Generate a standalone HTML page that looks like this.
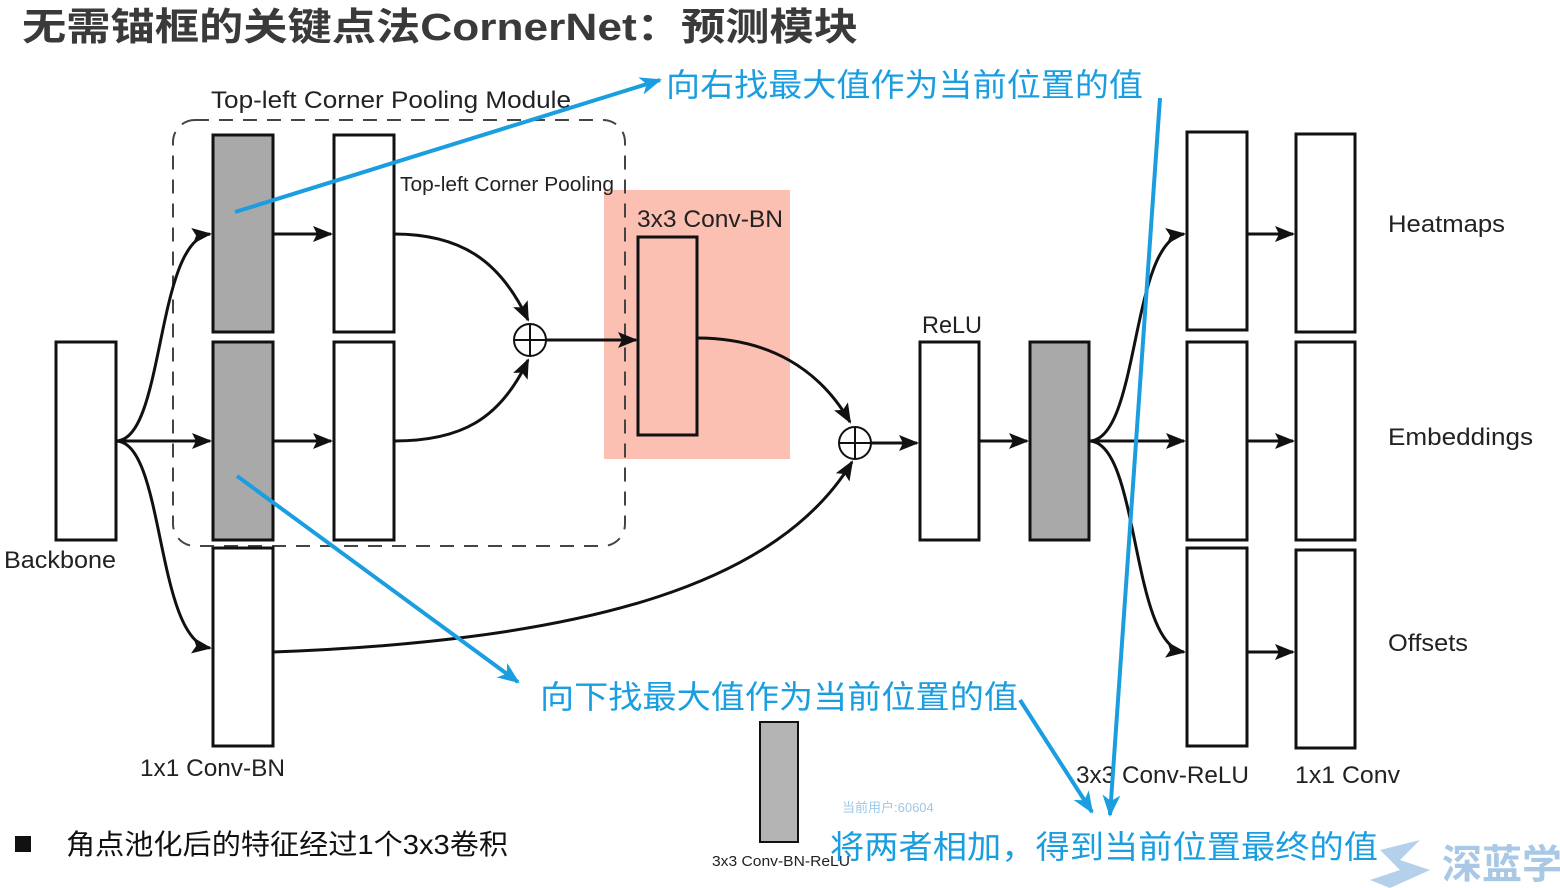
<!DOCTYPE html>
<html><head><meta charset="utf-8"><style>
body{margin:0;background:#fff;width:1560px;height:888px;overflow:hidden}
svg{display:block}
text{font-family:"Liberation Sans","Noto Sans CJK SC",sans-serif}
</style></head><body>
<svg width="1560" height="888" viewBox="0 0 1560 888">
<defs>
<marker id="ak" markerWidth="20" markerHeight="20" refX="18" refY="10" orient="auto" markerUnits="userSpaceOnUse" viewBox="0 0 20 20"><path d="M0,2 L20,10 L0,18 L4,10 z" fill="#111"/></marker>
<marker id="ab" markerWidth="22" markerHeight="18" refX="20" refY="9" orient="auto" markerUnits="userSpaceOnUse"><path d="M0,0 L22,9 L0,18 L6,9 z" fill="#1a9ee0"/></marker>
</defs>
<text x="22" y="40" font-size="38" font-weight="bold" fill="#3a3a3a" textLength="836" lengthAdjust="spacingAndGlyphs">无需锚框的关键点法CornerNet：预测模块</text>
<rect x="604" y="190" width="186" height="269" fill="#fbc0b2"/>
<rect x="173" y="120" width="452" height="426" rx="22" fill="none" stroke="#444" stroke-width="2" stroke-dasharray="14,10"/>
<text x="211" y="108" font-size="24" fill="#222" textLength="360" lengthAdjust="spacingAndGlyphs">Top-left Corner Pooling Module</text>
<text x="400" y="191" font-size="20" fill="#222" textLength="214" lengthAdjust="spacingAndGlyphs">Top-left Corner Pooling</text>
<text x="637" y="227" font-size="24" fill="#222" textLength="146" lengthAdjust="spacingAndGlyphs">3x3 Conv-BN</text>
<text x="4" y="568" font-size="24" fill="#222" textLength="112" lengthAdjust="spacingAndGlyphs">Backbone</text>
<text x="140" y="776" font-size="24" fill="#222" textLength="145" lengthAdjust="spacingAndGlyphs">1x1 Conv-BN</text>
<text x="922" y="333" font-size="24" fill="#222" textLength="60" lengthAdjust="spacingAndGlyphs">ReLU</text>
<text x="1388" y="232" font-size="24" fill="#222" textLength="117" lengthAdjust="spacingAndGlyphs">Heatmaps</text>
<text x="1388" y="445" font-size="24" fill="#222" textLength="145" lengthAdjust="spacingAndGlyphs">Embeddings</text>
<text x="1388" y="651" font-size="24" fill="#222" textLength="80" lengthAdjust="spacingAndGlyphs">Offsets</text>
<text x="1076" y="783" font-size="24" fill="#222" textLength="173" lengthAdjust="spacingAndGlyphs">3x3 Conv-ReLU</text>
<text x="1295" y="783" font-size="24" fill="#222" textLength="105" lengthAdjust="spacingAndGlyphs">1x1 Conv</text>
<text x="712" y="866" font-size="15" fill="#222" textLength="138" lengthAdjust="spacingAndGlyphs">3x3 Conv-BN-ReLU</text>
<text x="842" y="812" font-size="13" fill="#9cc8ea">当前用户:60604</text>
<g stroke="#111" stroke-width="3">
<rect x="56" y="342" width="60" height="198" fill="#fff"/>
<rect x="213" y="135" width="60" height="197" fill="#a9a9a9"/>
<rect x="213" y="342" width="60" height="198" fill="#a9a9a9"/>
<rect x="213" y="548" width="60" height="198" fill="#fff"/>
<rect x="334" y="135" width="60" height="197" fill="#fff"/>
<rect x="334" y="342" width="60" height="198" fill="#fff"/>
<rect x="638" y="237" width="59" height="198" fill="#fbc0b2"/>
<rect x="920" y="342" width="59" height="198" fill="#fff"/>
<rect x="1030" y="342" width="59" height="198" fill="#a9a9a9"/>
<rect x="1187" y="132" width="60" height="198" fill="#fff"/>
<rect x="1187" y="342" width="60" height="198" fill="#fff"/>
<rect x="1187" y="548" width="60" height="198" fill="#fff"/>
<rect x="1296" y="134" width="59" height="198" fill="#fff"/>
<rect x="1296" y="342" width="59" height="198" fill="#fff"/>
<rect x="1296" y="550" width="59" height="198" fill="#fff"/>
<rect x="760" y="722" width="38" height="120" fill="#b4b4b4" stroke-width="2"/>
<circle cx="530" cy="340" r="16" fill="none" stroke-width="2"/>
<line x1="514" y1="340" x2="546" y2="340" stroke-width="2"/><line x1="530" y1="324" x2="530" y2="356" stroke-width="2"/>
<circle cx="855" cy="443" r="16" fill="none" stroke-width="2"/>
<line x1="839" y1="443" x2="871" y2="443" stroke-width="2"/><line x1="855" y1="427" x2="855" y2="459" stroke-width="2"/>
</g>
<g stroke="#111" stroke-width="3" fill="none" marker-end="url(#ak)">
<path d="M116,441 C165,441 155,240 210,234"/>
<path d="M116,441 L210,441"/>
<path d="M116,441 C165,441 155,640 210,648"/>
<path d="M273,234 L331,234"/>
<path d="M273,441 L331,441"/>
<path d="M394,234 C460,234 500,260 528,320"/>
<path d="M394,441 C460,441 500,420 528,360"/>
<path d="M546,340 L636,340"/>
<path d="M697,338 C770,338 820,370 850,422"/>
<path d="M273,652 C600,640 780,580 852,462"/>
<path d="M871,443 L917,443"/>
<path d="M979,441 L1027,441"/>
<path d="M1089,441 C1140,441 1130,240 1184,234"/>
<path d="M1089,441 L1184,441"/>
<path d="M1089,441 C1140,441 1130,645 1184,652"/>
<path d="M1247,234 L1293,234"/>
<path d="M1247,441 L1293,441"/>
<path d="M1247,652 L1293,652"/>
</g>
<g stroke="#1a9ee0" stroke-width="4" fill="none" marker-end="url(#ab)">
<line x1="235" y1="212" x2="660" y2="80"/>
<line x1="237" y1="476" x2="518" y2="682"/>
<line x1="1160" y1="98" x2="1110" y2="815"/>
<line x1="1020" y1="700" x2="1092" y2="812"/>
</g>
<text x="666" y="96" font-size="32" fill="#1a9ee0" textLength="477" lengthAdjust="spacingAndGlyphs">向右找最大值作为当前位置的值</text>
<text x="540" y="708" font-size="32" fill="#1a9ee0" textLength="478" lengthAdjust="spacingAndGlyphs">向下找最大值作为当前位置的值</text>
<text x="830" y="858" font-size="32" fill="#1a9ee0" textLength="548" lengthAdjust="spacingAndGlyphs">将两者相加，得到当前位置最终的值</text>
<rect x="15" y="836" width="16" height="16" fill="#111"/>
<text x="66" y="854" font-size="28" fill="#111" textLength="442" lengthAdjust="spacingAndGlyphs">角点池化后的特征经过1个3x3卷积</text>
<text x="1442" y="878" font-size="40" font-weight="bold" fill="#a9c8e6">深蓝学</text>
<path d="M1380,850 L1420,840 L1400,860 L1430,870 L1390,888 L1370,880 L1400,870 Z" fill="#b4d0ea"/>
</svg>
</body></html>
